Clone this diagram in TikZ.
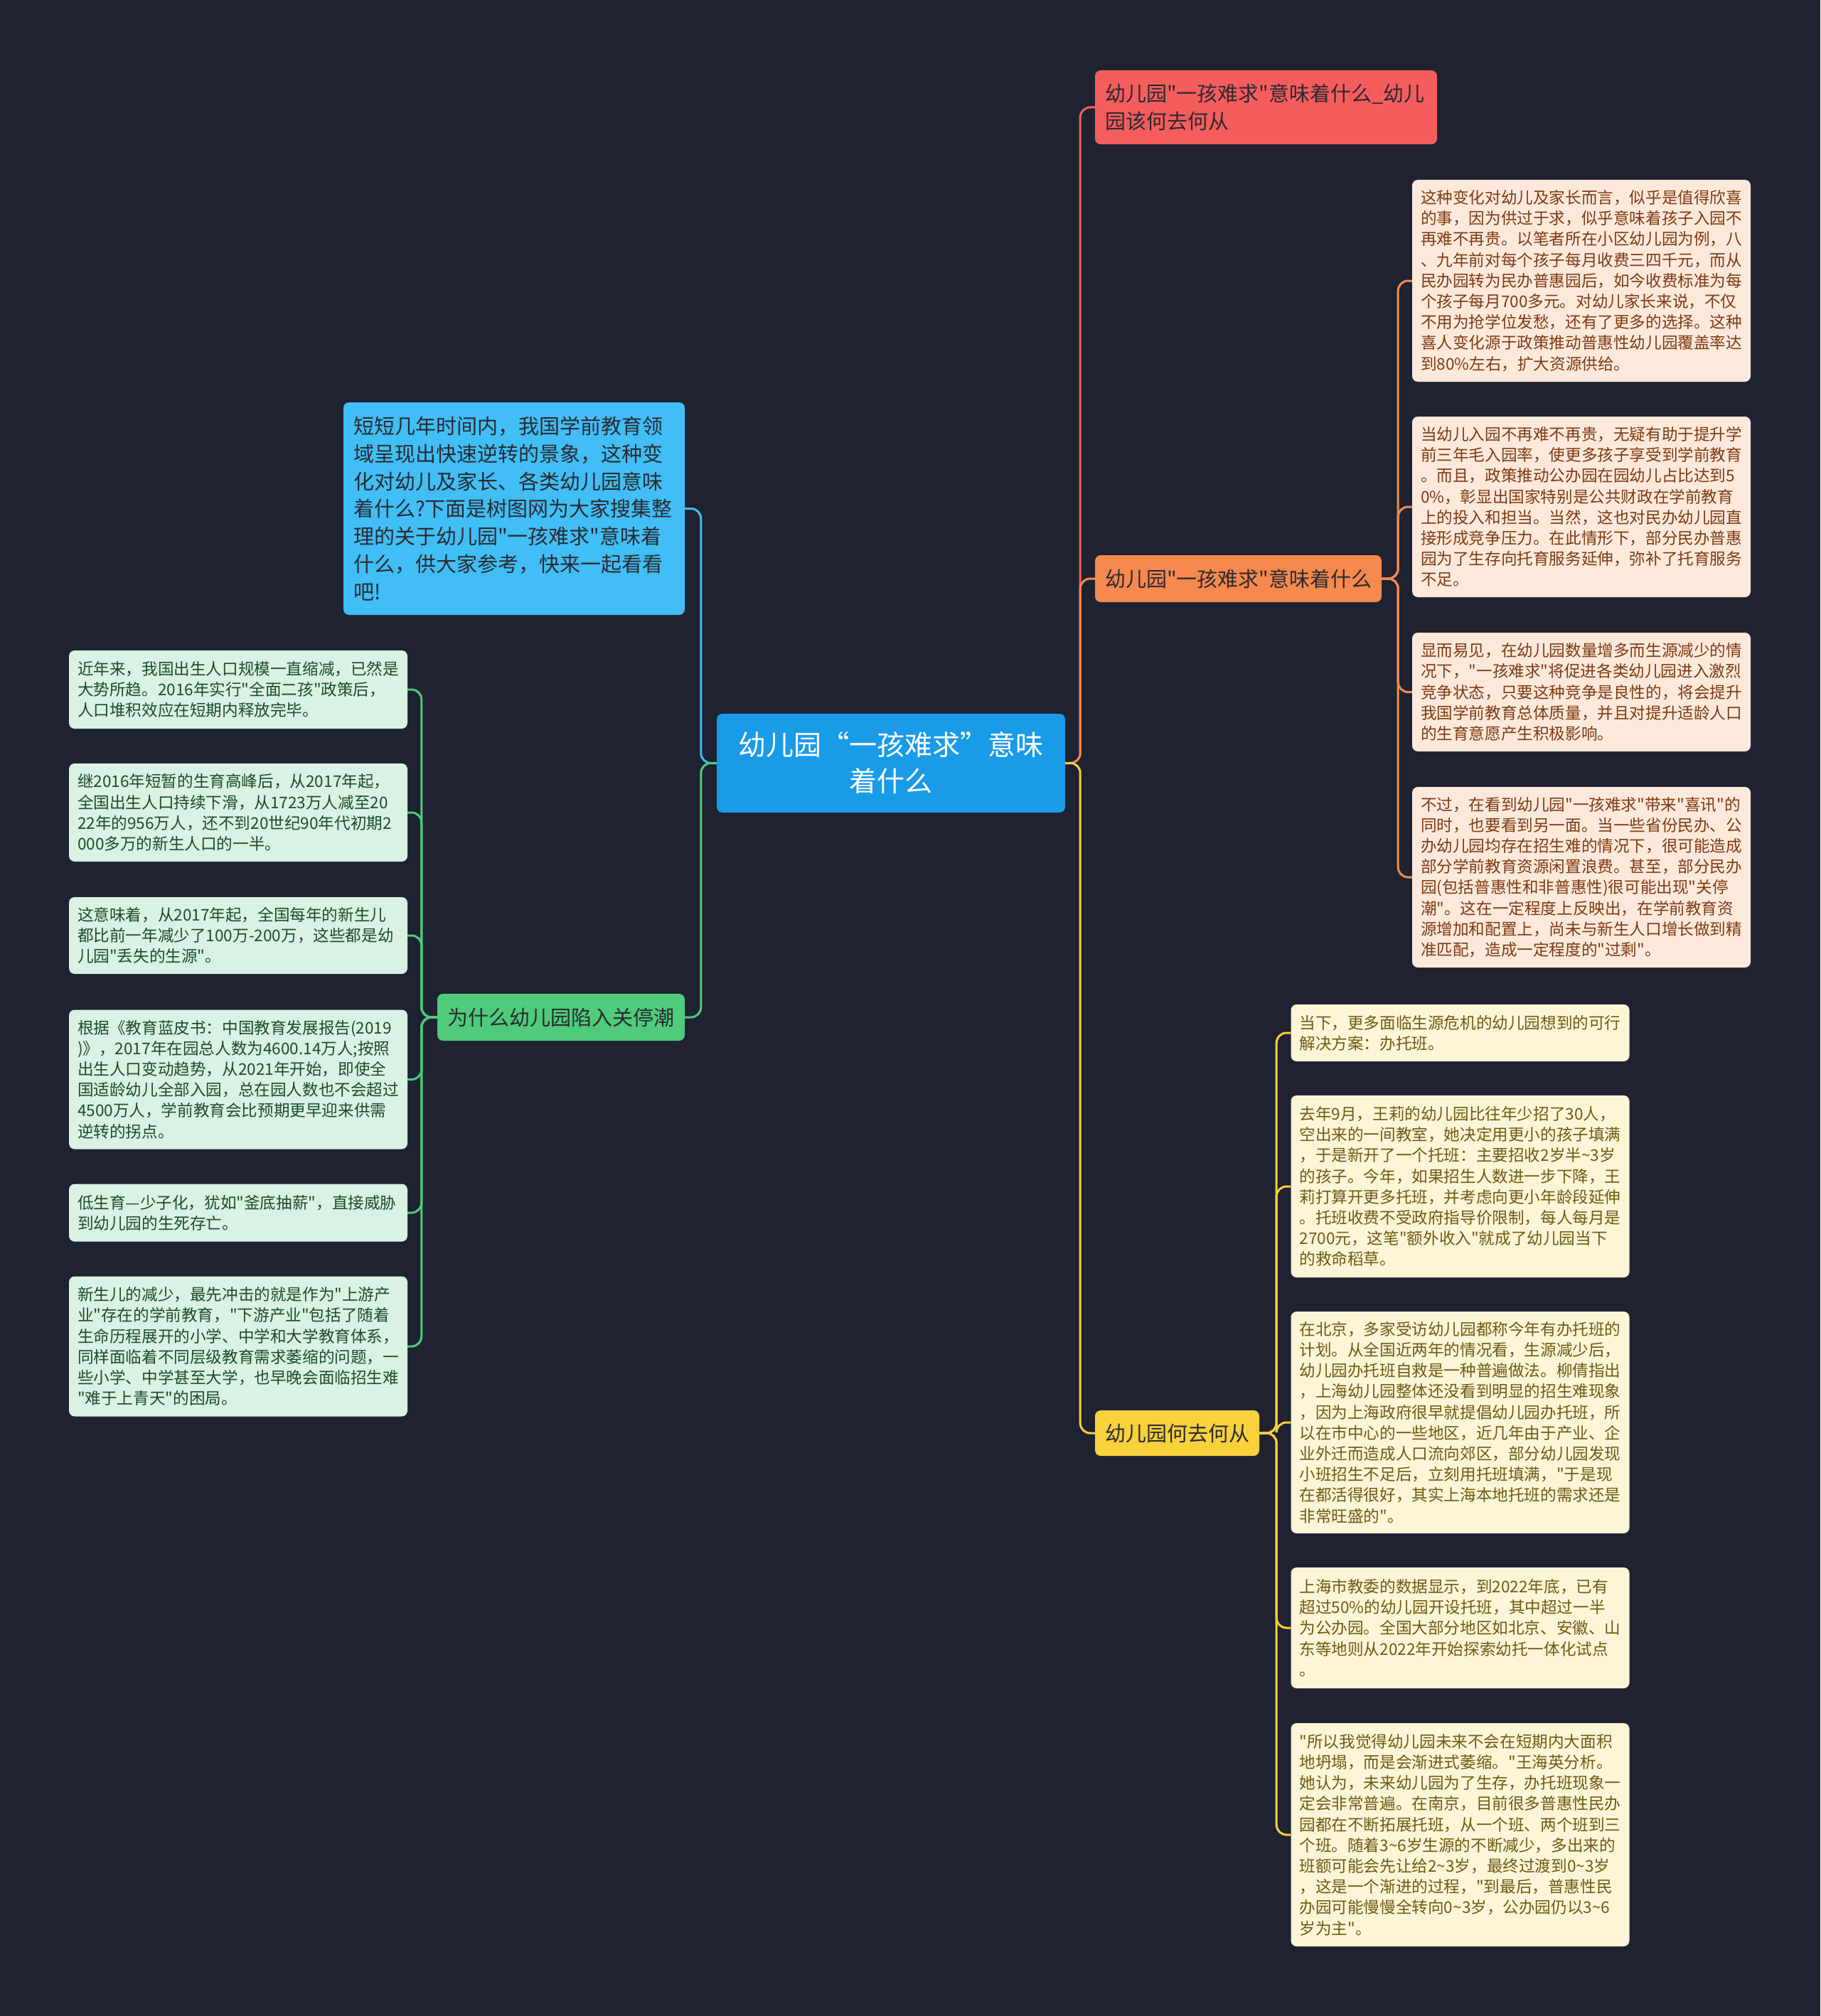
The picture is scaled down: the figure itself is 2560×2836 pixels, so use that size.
\documentclass[tikz,border=0pt]{standalone}
\usepackage{fontspec}
\setmainfont{Noto Sans CJK SC}[Ligatures=TeXOff]
\definecolor{bgc}{HTML}{1F2230}
\definecolor{ctrc}{HTML}{1A9BE8}
\definecolor{redc}{HTML}{F55D5D}
\definecolor{orac}{HTML}{F5894E}
\definecolor{yelc}{HTML}{F8D13C}
\definecolor{bluc}{HTML}{41BEF5}
\definecolor{grnc}{HTML}{4FCB7B}
\definecolor{oleaf}{HTML}{FDE9DC}
\definecolor{otext}{HTML}{7B3A12}
\definecolor{yleaf}{HTML}{FCF5D7}
\definecolor{ytext}{HTML}{6E5A12}
\definecolor{gleaf}{HTML}{D9F2E3}
\definecolor{gtext}{HTML}{1D4A2E}
\definecolor{darktext}{HTML}{2A2A30}
\newcommand\tld{\textasciitilde}
\tikzset{
  box/.style={rounded corners=8pt, inner xsep=12pt, inner ysep=0pt, align=left},
  leaf/.style={box, text width=452pt, font=\fontsize{22.6}{29.2}\selectfont},
  oleafbox/.style={leaf, fill=oleaf, text=otext},
  yleafbox/.style={leaf, fill=yleaf, text=ytext},
  gleafbox/.style={leaf, fill=gleaf, text=gtext},
  mainbox/.style={box, inner xsep=14pt, font=\fontsize{29}{38.7}\selectfont, text=darktext},
  conn/.style={line width=3pt, rounded corners=14pt}
}
\begin{document}
\begin{tikzpicture}[x=1pt,y=-1pt]
\useasboundingbox (0,0) rectangle (2560,2836);
\fill[bgc] (0,0) rectangle (2560,2836);

% central and main nodes
\node[box, fill=ctrc, text=white, align=center, text width=466pt, minimum height=139pt,
      font=\fontsize{39}{51}\selectfont] (ctr) at (1253,1073.5) {幼儿园“一孩难求”意味\\着什么};
\node[mainbox, fill=redc, text width=453pt, minimum height=104pt] (redm) at (1780.5,151)
  {幼儿园"一孩难求"意味着什么\_幼儿\\园该何去何从};
\node[mainbox, fill=orac, align=center, text width=375pt, minimum height=66pt] (oram) at (1741.5,814)
  {幼儿园"一孩难求"意味着什么};
\node[mainbox, fill=yelc, align=center, text width=203pt, minimum height=64pt] (yelm) at (1655.5,2016)
  {幼儿园何去何从};
\node[mainbox, fill=bluc, text width=452pt, minimum height=299pt] (blum) at (723,715.5)
  {短短几年时间内，我国学前教育领\\域呈现出快速逆转的景象，这种变\\化对幼儿及家长、各类幼儿园意味\\着什么?下面是树图网为大家搜集整\\理的关于幼儿园"一孩难求"意味着\\什么，供大家参考，快来一起看看\\吧!};
\node[mainbox, fill=grnc, align=center, text width=320pt, minimum height=66pt] (grnm) at (789,1431)
  {为什么幼儿园陷入关停潮};

% orange leaves
\node[oleafbox, minimum height=284pt] (o1) at (2224,395)
  {这种变化对幼儿及家长而言，似乎是值得欣喜\\的事，因为供过于求，似乎意味着孩子入园不\\再难不再贵。以笔者所在小区幼儿园为例，八\\、九年前对每个孩子每月收费三四千元，而从\\民办园转为民办普惠园后，如今收费标准为每\\个孩子每月700多元。对幼儿家长来说，不仅\\不用为抢学位发愁，还有了更多的选择。这种\\喜人变化源于政策推动普惠性幼儿园覆盖率达\\到80\%左右，扩大资源供给。};
\node[oleafbox, minimum height=254pt] (o2) at (2224,713)
  {当幼儿入园不再难不再贵，无疑有助于提升学\\前三年毛入园率，使更多孩子享受到学前教育\\。而且，政策推动公办园在园幼儿占比达到5\\0\%，彰显出国家特别是公共财政在学前教育\\上的投入和担当。当然，这也对民办幼儿园直\\接形成竞争压力。在此情形下，部分民办普惠\\园为了生存向托育服务延伸，弥补了托育服务\\不足。};
\node[oleafbox, minimum height=167pt] (o3) at (2224,973.5)
  {显而易见，在幼儿园数量增多而生源减少的情\\况下，"一孩难求"将促进各类幼儿园进入激烈\\竞争状态，只要这种竞争是良性的，将会提升\\我国学前教育总体质量，并且对提升适龄人口\\的生育意愿产生积极影响。};
\node[oleafbox, minimum height=254pt] (o4) at (2224,1234)
  {不过，在看到幼儿园"一孩难求"带来"喜讯"的\\同时，也要看到另一面。当一些省份民办、公\\办幼儿园均存在招生难的情况下，很可能造成\\部分学前教育资源闲置浪费。甚至，部分民办\\园(包括普惠性和非普惠性)很可能出现"关停\\潮"。这在一定程度上反映出，在学前教育资\\源增加和配置上，尚未与新生人口增长做到精\\准匹配，造成一定程度的"过剩"。};

% yellow leaves
\node[yleafbox, minimum height=80pt] (y1) at (2053.5,1453)
  {当下，更多面临生源危机的幼儿园想到的可行\\解决方案：办托班。};
\node[yleafbox, minimum height=256pt] (y2) at (2053.5,1669)
  {去年9月，王莉的幼儿园比往年少招了30人，\\空出来的一间教室，她决定用更小的孩子填满\\，于是新开了一个托班：主要招收2岁半\tld 3岁\\的孩子。今年，如果招生人数进一步下降，王\\莉打算开更多托班，并考虑向更小年龄段延伸\\。托班收费不受政府指导价限制，每人每月是\\2700元，这笔"额外收入"就成了幼儿园当下\\的救命稻草。};
\node[yleafbox, minimum height=312pt] (y3) at (2053.5,2001)
  {在北京，多家受访幼儿园都称今年有办托班的\\计划。从全国近两年的情况看，生源减少后，\\幼儿园办托班自救是一种普遍做法。柳倩指出\\，上海幼儿园整体还没看到明显的招生难现象\\，因为上海政府很早就提倡幼儿园办托班，所\\以在市中心的一些地区，近几年由于产业、企\\业外迁而造成人口流向郊区，部分幼儿园发现\\小班招生不足后，立刻用托班填满，"于是现\\在都活得很好，其实上海本地托班的需求还是\\非常旺盛的"。};
\node[yleafbox, minimum height=170pt] (y4) at (2053.5,2290)
  {上海市教委的数据显示，到2022年底，已有\\超过50\%的幼儿园开设托班，其中超过一半\\为公办园。全国大部分地区如北京、安徽、山\\东等地则从2022年开始探索幼托一体化试点\\。};
\node[yleafbox, minimum height=314pt] (y5) at (2053.5,2581)
  {"所以我觉得幼儿园未来不会在短期内大面积\\地坍塌，而是会渐进式萎缩。"王海英分析。\\她认为，未来幼儿园为了生存，办托班现象一\\定会非常普遍。在南京，目前很多普惠性民办\\园都在不断拓展托班，从一个班、两个班到三\\个班。随着3\tld 6岁生源的不断减少，多出来的\\班额可能会先让给2\tld 3岁，最终过渡到0\tld 3岁\\，这是一个渐进的过程，"到最后，普惠性民\\办园可能慢慢全转向0\tld 3岁，公办园仍以3\tld 6\\岁为主"。};

% green leaves
\node[gleafbox, minimum height=110pt] (g1) at (335,970)
  {近年来，我国出生人口规模一直缩减，已然是\\大势所趋。2016年实行"全面二孩"政策后，\\人口堆积效应在短期内释放完毕。};
\node[gleafbox, minimum height=138pt] (g2) at (335,1143)
  {继2016年短暂的生育高峰后，从2017年起，\\全国出生人口持续下滑，从1723万人减至20\\22年的956万人，还不到20世纪90年代初期2\\000多万的新生人口的一半。};
\node[gleafbox, minimum height=108pt] (g3) at (335,1316)
  {这意味着，从2017年起，全国每年的新生儿\\都比前一年减少了100万-200万，这些都是幼\\儿园"丢失的生源"。};
\node[gleafbox, minimum height=196pt] (g4) at (335,1518.5)
  {根据《教育蓝皮书：中国教育发展报告(2019\\)》，2017年在园总人数为4600.14万人;按照\\出生人口变动趋势，从2021年开始，即使全\\国适龄幼儿全部入园，总在园人数也不会超过\\4500万人，学前教育会比预期更早迎来供需\\逆转的拐点。};
\node[gleafbox, minimum height=81pt] (g5) at (335,1706)
  {低生育—少子化，犹如"釜底抽薪"，直接威胁\\到幼儿园的生死存亡。};
\node[gleafbox, minimum height=197pt] (g6) at (335,1894)
  {新生儿的减少，最先冲击的就是作为"上游产\\业"存在的学前教育，"下游产业"包括了随着\\生命历程展开的小学、中学和大学教育体系，\\同样面临着不同层级教育需求萎缩的问题，一\\些小学、中学甚至大学，也早晚会面临招生难\\"难于上青天"的困局。};

% connectors from center
\draw[conn, redc] (ctr.east) -- ++(21,0) |- (redm.west);
\draw[conn, orac] (ctr.east) -- ++(21,0) |- (oram.west);
\draw[conn, yelc] (ctr.east) -- ++(21,0) |- (yelm.west);
\draw[conn, bluc] (ctr.west) -- ++(-22,0) |- (blum.east);
\draw[conn, grnc] (ctr.west) -- ++(-22,0) |- (grnm.east);

% orange leaf connectors
\foreach \n in {o1,o2,o3,o4}
  \draw[conn, orac] (oram.east) -- ++(23,0) |- (\n.west);
% yellow leaf connectors
\foreach \n in {y1,y2,y3,y4,y5}
  \draw[conn, yelc] (yelm.east) -- ++(24,0) |- (\n.west);
% green leaf connectors
\foreach \n in {g1,g2,g3,g4,g5,g6}
  \draw[conn, grnc] (grnm.west) -- ++(-22,0) |- (\n.east);
\end{tikzpicture}
\end{document}
